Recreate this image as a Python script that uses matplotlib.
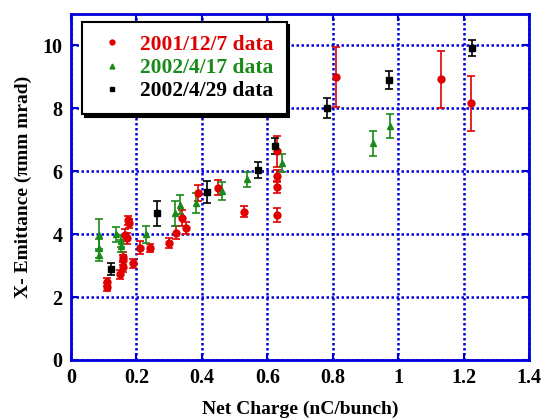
import matplotlib
matplotlib.use("Agg")
import matplotlib.pyplot as plt
from matplotlib.lines import Line2D

# 2001/12/7 data (red)
red_x = [0.111, 0.111, 0.150, 0.160, 0.160, 0.160, 0.165, 0.170, 0.175, 0.178,
         0.191, 0.211, 0.242, 0.301, 0.321, 0.340, 0.351, 0.389, 0.450, 0.530,
         0.631, 0.631, 0.631, 0.631, 0.811, 1.130, 1.221]
red_y = [2.49, 2.33, 2.72, 3.28, 3.17, 2.96, 3.97, 3.86, 4.44, 4.34,
         3.07, 3.57, 3.55, 3.72, 4.05, 4.50, 4.20, 5.31, 5.48, 4.71,
         6.63, 5.84, 5.50, 4.60, 8.99, 8.92, 8.16]
red_err = [0.13, 0.13, 0.15, 0.15, 0.15, 0.15, 0.18, 0.18, 0.15, 0.15,
           0.15, 0.20, 0.13, 0.15, 0.20, 0.25, 0.20, 0.25, 0.25, 0.18,
           0.49, 0.20, 0.20, 0.23, 0.95, 0.90, 0.87]

# 2002/4/17 data (green)
green_x = [0.086, 0.086, 0.086, 0.137, 0.153, 0.153, 0.228, 0.318, 0.333,
           0.382, 0.463, 0.537, 0.645, 0.924, 0.975]
green_y = [3.97, 3.55, 3.33, 3.99, 3.78, 3.62, 3.99, 4.66, 4.94,
           4.99, 5.37, 5.74, 6.26, 6.88, 7.44]
green_err = [0.50, 0.30, 0.20, 0.25, 0.20, 0.20, 0.27, 0.40, 0.30,
             0.33, 0.30, 0.24, 0.30, 0.39, 0.38]

# 2002/4/29 data (black)
black_x = [0.121, 0.262, 0.415, 0.572, 0.623, 0.782, 0.971, 1.226]
black_y = [2.89, 4.66, 5.34, 6.03, 6.80, 8.01, 8.89, 9.91]
black_err = [0.19, 0.40, 0.34, 0.25, 0.25, 0.32, 0.28, 0.25]

labels = ["2001/12/7 data", "2002/4/17 data", "2002/4/29 data"]

RED = "#e00000"
GREEN = "#1a8a1a"
BLACK = "#000000"
BLUE = "#0000dd"

plt.rcParams["font.family"] = ["Liberation Serif", "DejaVu Serif"]
plt.rcParams["font.weight"] = "bold"

fig = plt.figure(figsize=(5.46, 4.2), dpi=100)
ax = fig.add_axes([0.130, 0.143, 0.839, 0.824])

series = [
    (red_x, red_y, red_err, RED, "o", 5),
    (green_x, green_y, green_err, GREEN, "^", 5),
    (black_x, black_y, black_err, BLACK, "s", 5),
]
for xs, ys, es, c, m, ms in series:
    ax.errorbar(xs, ys, yerr=es, fmt=m, color=c, ecolor=c, ms=ms,
                elinewidth=1.2, capsize=3, capthick=1.2, zorder=3)

ax.set_xlim(0, 1.4)
ax.set_ylim(0, 11)
ax.set_xticks([0, 0.2, 0.4, 0.6, 0.8, 1.0, 1.2, 1.4])
ax.set_xticklabels(["0", "0.2", "0.4", "0.6", "0.8", "1", "1.2", "1.4"])
ax.set_yticks([0, 2, 4, 6, 8, 10])

ax.grid(True, color=BLUE, linestyle=(0, (1, 1)), linewidth=1.8)
ax.set_axisbelow(True)
for s in ax.spines.values():
    s.set_color(BLUE)
    s.set_linewidth(2)
ax.tick_params(direction="in", length=5, width=1.5, color=BLUE,
               top=True, right=True, labelsize=14.5, pad=6)
for lab in ax.get_xticklabels() + ax.get_yticklabels():
    lab.set_fontweight("bold")

ax.set_xlabel("Net Charge (nC/bunch)", fontsize=14, fontweight="bold", labelpad=9)
ax.set_ylabel("X- Emittance (\u03c0mm mrad)", fontsize=14, fontweight="bold", labelpad=8)

handles = [
    Line2D([], [], color=RED, marker="o", ms=3.5, linestyle="none"),
    Line2D([], [], color=GREEN, marker="^", ms=3.5, linestyle="none"),
    Line2D([], [], color=BLACK, marker="s", ms=3.5, linestyle="none"),
]
leg = ax.legend(handles, labels, loc="upper left", bbox_to_anchor=(0.024, 0.977),
                prop={"size": 15.5, "weight": "bold"}, frameon=True, fancybox=False,
                shadow={"color": "black", "alpha": 1.0}, handletextpad=0.5,
                borderpad=0.6, labelspacing=0.15, handlelength=1.6,
                borderaxespad=0)
leg.get_frame().set_edgecolor("black")
leg.get_frame().set_linewidth(1.5)
for txt, c in zip(leg.get_texts(), [RED, GREEN, BLACK]):
    txt.set_color(c)

fig.savefig("out.png", dpi=100)
